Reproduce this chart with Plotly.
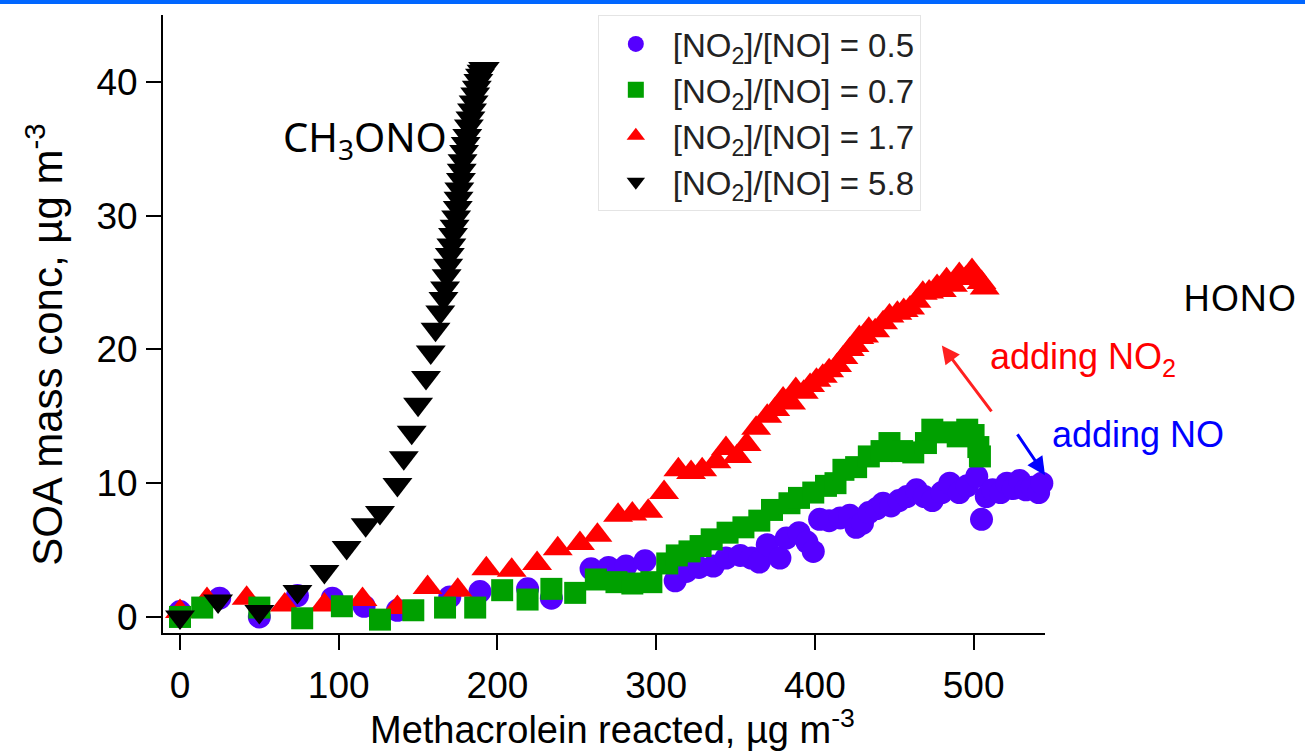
import plotly.graph_objects as go

# SOA mass vs methacrolein reacted, four NO2/NO ratios
x_05 = [0, 25, 50, 74, 96, 116, 137, 170, 189, 219, 234, 259, 270, 281, 293, 312, 319, 327, 336,
        344, 353, 360, 365, 370, 378, 382, 390, 395, 399, 403, 409, 416, 422, 426, 430, 434, 439,
        443, 448, 453, 458, 464, 469, 474, 480, 485, 491, 496, 502, 505, 508, 512, 517, 521, 525,
        529, 533, 537, 541, 543, 546]
y_05 = [0.4, 1.4, 0.0, 1.6, 1.4, 0.8, 0.5, 1.5, 1.9, 2.1, 1.4, 3.6, 3.7, 3.8, 4.2, 2.7, 3.4, 3.7, 3.8,
        4.4, 4.6, 4.4, 4.1, 5.4, 4.4, 5.9, 6.3, 5.6, 4.9, 7.3, 7.2, 7.4, 7.6, 6.7, 7.0, 7.8, 8.1,
        8.5, 8.3, 8.7, 9.0, 9.5, 9.0, 8.7, 9.3, 10.0, 9.3, 9.8, 10.5, 7.3, 9.0, 9.5, 9.3, 10.0, 9.6,
        10.2, 9.5, 9.7, 9.3, 10.0, 9.0]

x_07 = [0, 14, 50, 77, 102, 126, 147, 167, 186, 203, 219, 234, 249, 262, 275, 285, 297, 307, 313,
        321, 328, 335, 345, 355, 365, 373, 384, 390, 399, 407, 413, 418, 426, 434, 442, 447, 455,
        462, 470, 474, 483, 490, 496, 500, 503, 504]
y_07 = [0.0, 0.7, 0.7, -0.1, 0.8, -0.2, 0.5, 0.7, 0.7, 2.0, 1.3, 2.1, 1.8, 2.8, 2.6, 2.5, 2.6, 4.0, 4.6,
        4.9, 5.3, 5.8, 6.3, 6.7, 7.2, 8.0, 8.5, 8.9, 9.3, 9.8, 10.0, 11.0, 11.2, 12.0, 12.4, 13.0, 12.4,
        12.3, 13.0, 14.0, 13.8, 13.5, 14.0, 13.6, 12.7, 12.0]

x_17 = [0, 17, 42, 66, 91, 115, 137, 156, 175, 193, 209, 225, 238, 252, 263, 276, 285, 295, 305,
        314, 322, 329, 338, 344, 351, 357, 363, 370, 375, 380, 385, 388, 393, 397, 401, 405, 409,
        414, 418, 422, 425, 428, 431, 434, 438, 443, 447, 452, 456, 460, 464, 468, 472, 477, 480,
        483, 487, 491, 495, 499, 502, 505, 507]
y_17 = [0.4, 1.3, 1.4, 0.9, 0.9, 1.3, 0.7, 2.2, 2.0, 3.6, 3.5, 4.0, 5.1, 5.5, 6.1, 7.6, 7.7, 7.9, 9.3,
        11.0, 10.8, 11.0, 11.6, 12.6, 12.0, 12.9, 14.1, 15.0, 15.5, 16.3, 16.0, 17.0, 16.8, 17.3, 17.7,
        18.0, 18.4, 18.8, 19.4, 20.0, 20.3, 20.9, 21.0, 21.5, 21.4, 22.0, 22.5, 22.7, 22.9, 23.1, 23.6,
        24.2, 24.3, 24.7, 24.4, 25.2, 24.8, 25.6, 25.3, 25.9, 25.4, 25.0, 24.6]

x_58 = [0, 24, 50, 74, 91, 105, 117, 126, 137, 141, 146, 150, 155, 158, 161, 164, 166, 167, 168,
        169, 170, 171, 172, 173, 174, 175, 175.5, 176, 177, 177.5, 178, 179, 180, 181, 182, 183,
        184, 185, 186, 187, 188, 189, 190, 191, 192]
y_58 = [0.0, 1.2, 0.4, 1.9, 3.4, 5.2, 6.9, 7.8, 9.9, 11.9, 13.8, 15.9, 17.9, 19.8, 21.5, 22.8, 23.8,
        24.6, 25.5, 26.3, 27.1, 27.8, 28.6, 29.2, 29.9, 30.6, 31.3, 32.0, 32.7, 33.4, 34.1, 34.8, 35.4,
        36.0, 36.7, 37.3, 37.9, 38.5, 39.1, 39.6, 40.1, 40.5, 40.8, 41.0, 41.0]

series = [
    ("[NO<sub>2</sub>]/[NO] = 0.5", x_05, y_05, "circle", "#5500ff", 23),
    ("[NO<sub>2</sub>]/[NO] = 0.7", x_07, y_07, "square", "#00a000", 22),
    ("[NO<sub>2</sub>]/[NO] = 1.7", x_17, y_17, "triangle-up", "#ff0000", 26),
    ("[NO<sub>2</sub>]/[NO] = 5.8", x_58, y_58, "triangle-down", "#000000", 26),
]
# draw order: circles, triangles, squares, then the black series on top
draw_order = [0, 2, 1, 3]

FONT = "Liberation Sans, Arial, sans-serif"
SLIDE_FONT = "Noto Sans, sans-serif"

fig = go.Figure()
for i in draw_order:
    name, xs, ys, sym, col, sz = series[i]
    fig.add_trace(go.Scatter(
        x=xs, y=ys, mode="markers", name=name, legendrank=i + 1,
        marker=dict(symbol=sym, color=col, size=sz, line=dict(width=0)),
        cliponaxis=False,
    ))

axis_common = dict(
    showgrid=False, zeroline=False, showline=True, linecolor="black", linewidth=2,
    ticks="outside", ticklen=15, tickwidth=2, tickcolor="black",
    tickfont=dict(family=FONT, size=37, color="black"),
)

fig.update_layout(
    width=1305, height=751,
    margin=dict(l=163, r=260, t=15, b=118),
    paper_bgcolor="white", plot_bgcolor="white",
    showlegend=True,
    legend=dict(
        x=0.493, y=1.0, xanchor="left", yanchor="top",
        font=dict(family=FONT, size=33, color="#222222"),
        bordercolor="#e4e4e4", borderwidth=1, bgcolor="white",
        traceorder="normal", itemsizing="trace", itemwidth=64,
    ),
    xaxis=dict(range=[-10.7, 545], tickvals=[0, 100, 200, 300, 400, 500],
               ticklabelstandoff=4, **axis_common),
    yaxis=dict(range=[-1.2, 45], tickvals=[0, 10, 20, 30, 40],
               ticklabelstandoff=1, **axis_common),
)

# axis titles
fig.add_annotation(text="Methacrolein reacted, µg m<sup>-3</sup>", xref="paper", yref="paper",
                   x=0.51, y=-0.152, xanchor="center", yanchor="middle", showarrow=False,
                   font=dict(family=FONT, size=38, color="black"))
fig.add_annotation(text="SOA mass conc, µg m<sup>-3</sup>", xref="paper", yref="paper",
                   x=-0.134, y=0.466, xanchor="center", yanchor="middle", textangle=-90,
                   showarrow=False, font=dict(family=FONT, size=42, color="black"))

# labels and arrows
fig.add_annotation(text="CH<sub>3</sub>ONO", x=116.5, y=35.8, xref="x", yref="y",
                   xanchor="center", yanchor="middle", showarrow=False,
                   font=dict(family=SLIDE_FONT, size=40, color="black"))
fig.add_annotation(text="HONO", xref="paper", yref="paper", x=1.154, y=0.545,
                   xanchor="left", yanchor="middle", showarrow=False,
                   font=dict(family=SLIDE_FONT, size=37, color="black"))
fig.add_annotation(text="adding NO<sub>2</sub>", xref="paper", yref="paper", x=0.935, y=0.444,
                   xanchor="left", yanchor="middle", showarrow=False,
                   font=dict(family=FONT, size=36, color="#ff0000"))
fig.add_annotation(text="adding NO", xref="paper", yref="paper", x=1.006, y=0.321,
                   xanchor="left", yanchor="middle", showarrow=False,
                   font=dict(family=FONT, size=36, color="#0000ff"))
fig.add_annotation(x=480, y=20.3, ax=512, ay=15.25, xref="x", yref="y", axref="x", ayref="y",
                   text="", showarrow=True, arrowhead=2, arrowsize=1.2, arrowwidth=3,
                   arrowcolor="#ff2020", standoff=0)
fig.add_annotation(x=545, y=10.6, ax=527, ay=13.76, xref="x", yref="y", axref="x", ayref="y",
                   text="", showarrow=True, arrowhead=2, arrowsize=1.2, arrowwidth=3,
                   arrowcolor="#0000ff", standoff=0)

# blue strip along the top edge
fig.add_shape(type="rect", xref="paper", yref="paper", x0=-0.2, x1=1.3,
              y0=(633 - 4) / 618, y1=(633 + 2) / 618, fillcolor="#0066ff", line=dict(width=0),
              layer="above")

fig.write_html("out.html")
